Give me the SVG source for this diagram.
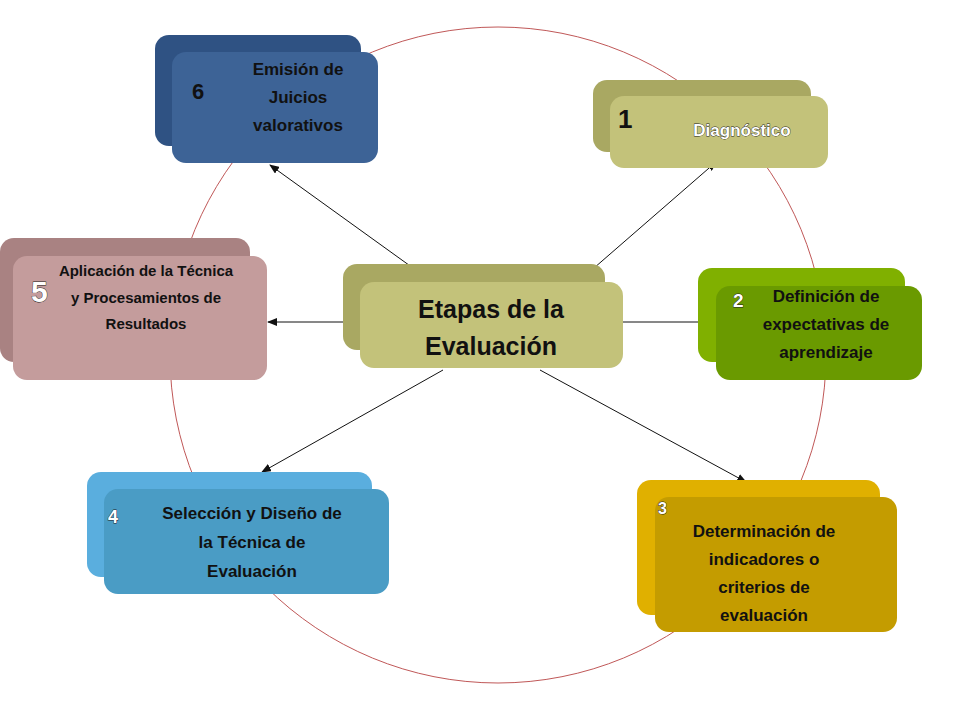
<svg xmlns="http://www.w3.org/2000/svg" width="960" height="720" viewBox="0 0 960 720">
<style>
text{font-family:"Liberation Sans",Arial,sans-serif;font-weight:bold;text-anchor:middle;fill:#111}
.t{font-size:17px}
.n{font-size:22px;text-anchor:start}
.w{fill:#fff;stroke:#222;stroke-width:0.8;paint-order:stroke}
.c{stroke:#111;stroke-width:1;marker-end:url(#a)}
</style>
<defs><marker id="a" markerWidth="10" markerHeight="8" refX="9" refY="4" orient="auto" markerUnits="userSpaceOnUse"><path d="M0,0L10,4L0,8z" fill="#111"/></marker></defs>
<rect width="960" height="720" fill="#fff"/>
<circle cx="498" cy="355" r="328" fill="none" stroke="#c05858" stroke-width="1"/>
<g id="connectors">
<line class="c" x1="413" y1="268" x2="270" y2="165"/>
<line class="c" x1="594" y1="268" x2="716" y2="162"/>
<line class="c" x1="360" y1="322" x2="268" y2="322"/>
<line class="c" x1="623" y1="322" x2="716" y2="322"/>
<line class="c" x1="443" y1="370" x2="262" y2="472"/>
<line class="c" x1="540" y1="370" x2="746" y2="482"/>
</g>
<g id="n6"><rect x="155" y="35" width="206" height="111" rx="14" fill="#2f5283"/><rect x="172" y="52" width="206" height="111" rx="14" fill="#3d6396"/>
<text class="n" x="192" y="99">6</text><text class="t" x="298" y="75">Emisión de</text><text class="t" x="298" y="103">Juicios</text><text class="t" x="298" y="131">valorativos</text></g>
<g id="n1"><rect x="593" y="80" width="218" height="72" rx="14" fill="#a9a862"/><rect x="610" y="96" width="218" height="72" rx="14" fill="#c3c27a"/>
<text class="n" x="618" y="128" style="font-size:26px">1</text><text class="t w" x="742" y="136">Diagnóstico</text></g>
<g id="n5"><rect x="0" y="238" width="250" height="124" rx="14" fill="#a98282"/><rect x="13" y="256" width="254" height="124" rx="14" fill="#c49c9c"/>
<text class="n w" x="31" y="302" style="font-size:30px">5</text><text class="t" style="font-size:15px" x="146" y="276">Aplicación de la Técnica</text><text class="t" style="font-size:15px" x="146" y="303">y Procesamientos de</text><text class="t" style="font-size:15px" x="146" y="329">Resultados</text></g>
<g id="center"><rect x="343" y="264" width="262" height="86" rx="14" fill="#a9a862"/><rect x="360" y="282" width="263" height="86" rx="14" fill="#c3c27a"/>
<text style="font-size:25px" x="491" y="318">Etapas de la</text><text style="font-size:25px" x="491" y="355">Evaluación</text></g>
<g id="n2"><rect x="698" y="268" width="207" height="94" rx="14" fill="#80b000"/><rect x="716" y="286" width="206" height="94" rx="14" fill="#6a9a00"/>
<text class="n w" x="733" y="307" style="font-size:19px">2</text><text class="t" x="826" y="302">Definición de</text><text class="t" x="826" y="330">expectativas de</text><text class="t" x="826" y="358">aprendizaje</text></g>
<g id="n4"><rect x="87" y="472" width="285" height="105" rx="14" fill="#5aaede"/><rect x="104" y="489" width="285" height="105" rx="14" fill="#4a9cc5"/>
<text class="n w" x="108" y="523" style="font-size:18px">4</text><text class="t" x="252" y="519">Selección y Diseño de</text><text class="t" x="252" y="548">la Técnica de</text><text class="t" x="252" y="577">Evaluación</text></g>
<g id="n3"><rect x="637" y="480" width="243" height="135" rx="14" fill="#e0b000"/><rect x="655" y="497" width="242" height="135" rx="14" fill="#c49c00"/>
<text class="n w" x="658" y="514" style="font-size:16px">3</text><text class="t" x="764" y="537">Determinación de</text><text class="t" x="764" y="565">indicadores o</text><text class="t" x="764" y="593">criterios de</text><text class="t" x="764" y="621">evaluación</text></g>
</svg>
